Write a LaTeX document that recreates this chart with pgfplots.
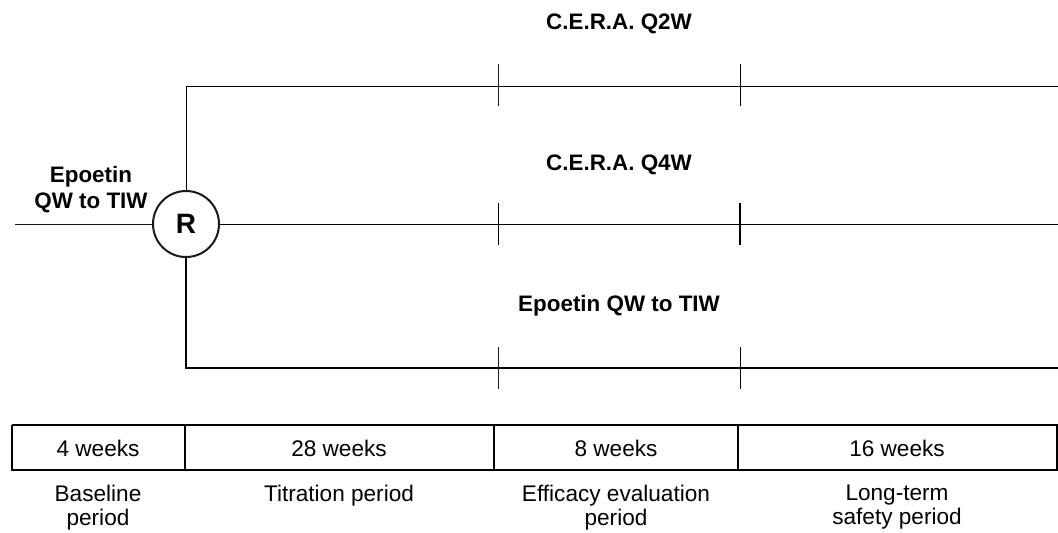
\documentclass[border=0pt]{standalone}
\usepackage{pgfplots}
\pgfplotsset{compat=1.18}
\usepackage{fontspec}
\setmainfont{Liberation Sans}

\begin{document}
\begin{tikzpicture}
\path[use as bounding box] (0,0) rectangle (529pt,266pt);
\begin{axis}[
    at={(0,0)}, anchor=south west,
    hide axis,
    scale only axis,
    width=529pt, height=266pt,
    xmin=0, xmax=1058,
    ymin=0, ymax=532,
    y dir=reverse,
    clip=false,
    cycle list={{black!90, solid, mark=none, line width=1.2pt}},
]
% arms
\addplot coordinates {(15,224) (153,224)};
\addplot coordinates {(186,191) (186,86) (1058,86)};
\addplot coordinates {(219,224) (1058,224)};
\addplot coordinates {(186,257) (186,368) (1058,368)};
% period ticks on each arm
\addplot coordinates {(498,64) (498,106)};
\addplot coordinates {(740,64) (740,106)};
\addplot coordinates {(498,203) (498,245)};
\addplot coordinates {(740,203) (740,245)};
\addplot coordinates {(498,347) (498,389)};
\addplot coordinates {(740,347) (740,389)};
% randomisation
\addplot[only marks, mark=*, mark size=16.5pt,
    mark options={fill=white, draw=black!90, line width=1pt},
    nodes near coords={R},
    every node near coord/.style={anchor=center, font=\bfseries\fontsize{14}{16}\selectfont}]
    coordinates {(186,224)};

% arm labels
\node[font=\bfseries\fontsize{11.2}{12.5}\selectfont] at (axis cs:619,24) {C.E.R.A. Q2W};
\node[font=\bfseries\fontsize{11.2}{12.5}\selectfont] at (axis cs:619,165) {C.E.R.A. Q4W};
\node[font=\bfseries\fontsize{11.2}{12.5}\selectfont] at (axis cs:619,306) {Epoetin QW to TIW};
\node[font=\bfseries\fontsize{11.2}{13}\selectfont, align=center] at (axis cs:91,190) {Epoetin\\QW to TIW};

% timeline table
\addplot[line width=1pt] coordinates {(12,425) (1057,425) (1057,470) (12,470) (12,425)};
\addplot[line width=1pt] coordinates {(185,425) (185,470)};
\addplot[line width=1pt] coordinates {(494,425) (494,470)};
\addplot[line width=1pt] coordinates {(738,425) (738,470)};
\node[font=\fontsize{11.3}{12.5}\selectfont] at (axis cs:98,448) {4 weeks};
\node[font=\fontsize{11.3}{12.5}\selectfont] at (axis cs:339,448) {28 weeks};
\node[font=\fontsize{11.3}{12.5}\selectfont] at (axis cs:616,448) {8 weeks};
\node[font=\fontsize{11.3}{12.5}\selectfont] at (axis cs:897,448) {16 weeks};

\node[font=\fontsize{11.3}{12}\selectfont, align=center, anchor=north] at (axis cs:98,478) {Baseline\\period};
\node[font=\fontsize{11.3}{12}\selectfont, align=center, anchor=north] at (axis cs:339,478) {Titration period};
\node[font=\fontsize{11.3}{12}\selectfont, align=center, anchor=north] at (axis cs:616,478) {Efficacy evaluation\\period};
\node[font=\fontsize{11.3}{12}\selectfont, align=center, anchor=north] at (axis cs:897,478) {Long-term\\safety period};
\end{axis}
\end{tikzpicture}
\end{document}
